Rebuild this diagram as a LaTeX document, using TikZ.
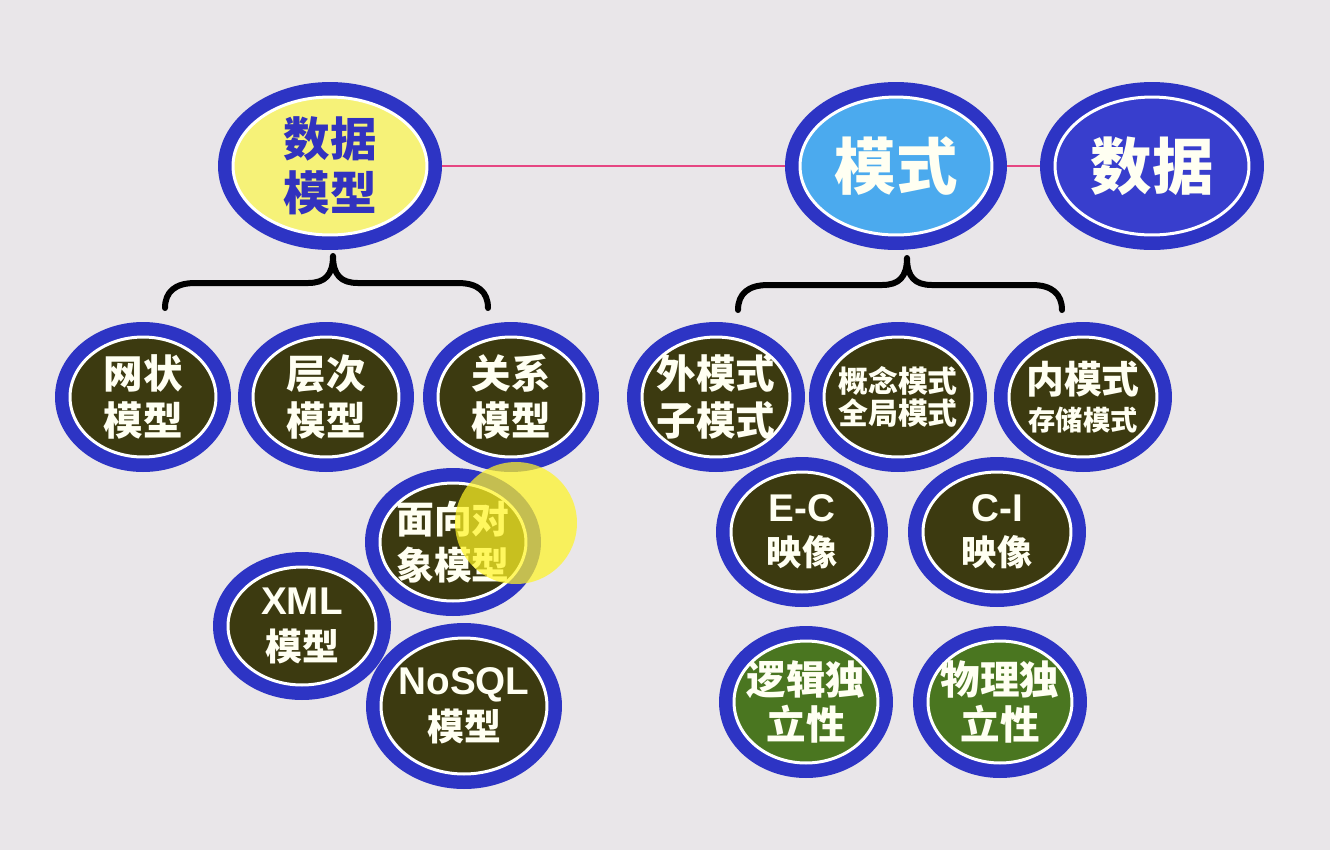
\documentclass[tikz,border=0pt]{standalone}
\usepackage{fontspec}
\usetikzlibrary{shapes.geometric}
\newfontfamily\cjk{Noto Sans CJK SC}
\newfontfamily\lat{Liberation Sans}
\definecolor{bgc}{RGB}{233,230,233}
\definecolor{ringblue}{RGB}{45,52,196}
\definecolor{olv}{RGB}{60,58,16}
\definecolor{grn}{RGB}{74,118,32}
\definecolor{yfill}{RGB}{246,242,120}
\definecolor{lblue}{RGB}{75,170,238}
\definecolor{dblue}{RGB}{56,62,205}
\definecolor{pinkline}{RGB}{230,70,130}
\definecolor{tblue}{RGB}{50,50,190}
\definecolor{txtw}{RGB}{255,255,242}
\newcommand{\fs}[2]{\fontsize{#1}{#2}\selectfont}
\tikzset{
  bub/.style={ellipse, inner sep=0pt, outer sep=0pt, draw=white, line width=0.06cm,
    fill=#1, preaction={draw=ringblue, line width=0.6cm}},
  lab/.style={text=txtw, align=center, inner sep=0pt},
  big/.style={font=\cjk\bfseries\fs{22.5}{26.5}},
  brace/.style={draw=black, line width=0.12cm, line cap=round, line join=round},
  link/.style={draw=pinkline, line width=0.04cm},
}
\begin{document}
\begin{tikzpicture}[x=0.02cm,y=-0.02cm]
\fill[bgc] (0,0) rectangle (1330,850);
\useasboundingbox (0,0) rectangle (1330,850);

% top row
\node[bub=yfill, minimum width=3.88cm, minimum height=2.76cm,
  label={[lab, text=tblue, font=\cjk\bfseries\fs{26.5}{31}]center:{数据\\模型}}] (dm) at (330,166) {};
\node[bub=lblue, minimum width=3.84cm, minimum height=2.76cm,
  label={[lab, font=\cjk\bfseries\fs{35}{40}]center:{模式}}] (ms) at (896,166) {};
\node[bub=dblue, minimum width=3.88cm, minimum height=2.76cm,
  label={[lab, font=\cjk\bfseries\fs{35}{40}]center:{数据}}] (sj) at (1152,166) {};

\draw[link] ([xshift=0.3cm]dm.east) -- ([xshift=-0.3cm]ms.west);
\draw[link] ([xshift=0.3cm]ms.east) -- ([xshift=-0.3cm]sj.west);

% braces
\draw[brace] (165,308) .. controls (165,292) and (175,283) .. (195,283) -- (308,283)
  .. controls (325,283) and (333,275) .. (333,256)
  .. controls (333,275) and (341,283) .. (358,283) -- (458,283)
  .. controls (478,283) and (488,292) .. (488,308);
\draw[brace] (738,310) .. controls (738,294) and (748,285) .. (768,285) -- (882,285)
  .. controls (899,285) and (907,277) .. (907,258)
  .. controls (907,277) and (915,285) .. (932,285) -- (1032,285)
  .. controls (1052,285) and (1062,294) .. (1062,310);

% left side
\node[bub=olv, minimum width=2.92cm, minimum height=2.40cm,
  label={[lab, big]center:{网状\\模型}}] (wz) at (143,397) {};
\node[bub=olv, minimum width=2.92cm, minimum height=2.40cm,
  label={[lab, big]center:{层次\\模型}}] (cc) at (326,397) {};
\node[bub=olv, minimum width=2.92cm, minimum height=2.40cm,
  label={[lab, big]center:{关系\\模型}}] (gx) at (511,397) {};
\node[bub=olv, minimum width=2.92cm, minimum height=2.36cm,
  label={[lab, font=\cjk\bfseries\fs{21.5}{26}]center:{面向对\\象模型}}] (mx) at (453,542) {};
\node[bub=olv, minimum width=2.96cm, minimum height=2.36cm,
  label={[lab, font=\cjk\bfseries\fs{21}{26}]center:{{\lat\bfseries\fs{22}{26}XML}\\模型}}] (xml) at (302,626) {};
\node[bub=olv, minimum width=3.32cm, minimum height=2.72cm,
  label={[lab, font=\cjk\bfseries\fs{21}{26}]center:{{\lat\bfseries\fs{22}{26}NoSQL}\\模型}}] (nosql) at (464,706) {};

% right side
\node[bub=olv, minimum width=2.96cm, minimum height=2.40cm,
  label={[lab, big]center:{外模式\\子模式}}] (wms) at (716,397) {};
\node[bub=olv, minimum width=2.96cm, minimum height=2.40cm,
  label={[lab, font=\cjk\bfseries\fs{17}{18.5}]center:{概念模式\\全局模式}}] (gn) at (898,397) {};
\node[bub=olv, minimum width=2.96cm, minimum height=2.40cm,
  label={[lab, font=\cjk\bfseries\fs{21.5}{21}]center:{内模式\\{\fs{15.5}{21}存储模式}}}] (nms) at (1083,397) {};
\node[bub=olv, minimum width=2.84cm, minimum height=2.40cm,
  label={[lab, font=\cjk\bfseries\fs{20}{25}]center:{{\lat\bfseries\fs{22}{25}E-C}\\映像}}] (ec) at (802,532) {};
\node[bub=olv, minimum width=2.96cm, minimum height=2.40cm,
  label={[lab, font=\cjk\bfseries\fs{20}{25}]center:{{\lat\bfseries\fs{22}{25}C-I}\\映像}}] (ci) at (997,532) {};
\node[bub=grn, minimum width=2.88cm, minimum height=2.44cm,
  label={[lab, font=\cjk\bfseries\fs{22.5}{25.5}]center:{逻辑独\\立性}}] (lj) at (806,702) {};
\node[bub=grn, minimum width=2.88cm, minimum height=2.44cm,
  label={[lab, font=\cjk\bfseries\fs{22.5}{25.5}]center:{物理独\\立性}}] (wl) at (1000,702) {};

% cursor highlight
\fill[yellow!85!white, opacity=0.72] (516,523) circle[radius=1.22cm];
\end{tikzpicture}
\end{document}
